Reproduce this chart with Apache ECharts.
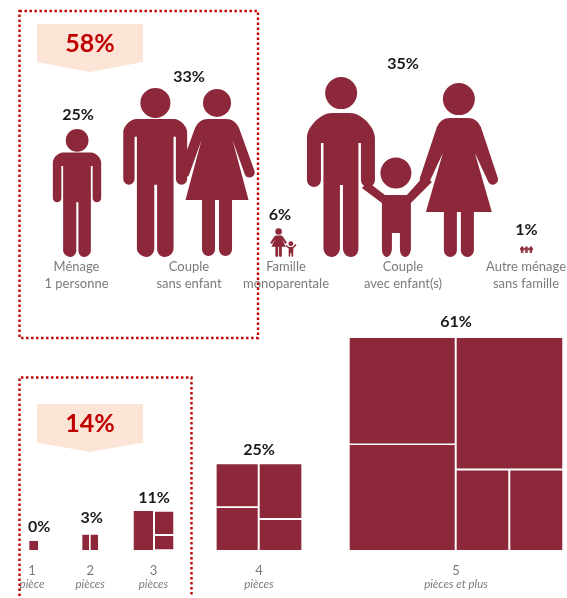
<!DOCTYPE html>
<html><head><meta charset="utf-8">
<style>html,body{margin:0;padding:0;background:#fff}#c{width:567px;height:598px}</style>
<script src="https://cdn.jsdelivr.net/npm/echarts@6/dist/echarts.min.js"></script>
</head><body><div id="c"></div>
<script>
// ---------- data ----------
const householdTypes = ['Ménage\n1 personne','Couple\nsans enfant','Famille\nmonoparentale','Couple\navec enfant(s)','Autre ménage\nsans famille'];
const householdShares = [25,33,6,35,1];
const householdDrawn = [24.9,32.9,5.6,35,1.3];
const roomCounts = ['1','2','3','4','5'];
const roomUnits = ['pièce','pièces','pièces','pièces','pièces et plus'];
const roomShares = [0,3,11,25,61];
const roomDrawn = [2.6,4.4,11.2,24.7,61];
const calloutTexts = ['58%','14%'];

// ---------- layout ----------
const W = 567, H = 598;
const peopleBase = 257, peopleRange = 50, roomBase = 550, roomRange = 100;
const peoplePx = peopleBase/peopleRange, roomPx = 3.475;
const iconX = [77,189,283.5,402.5,526.5];
const iconLift = [0,0,0,0,4];
const iconStretch = [1,1,1,1,1.68];
const valueOff = [[1,-1],[0,2],[-3.5,0],[0.5,0],[0,-3]];
const catX = [76.5,189,286,403,526];
const roomX = [33.7,90.2,153.5,259,456];
const roomValueOff = [[5.5,-1],[1.5,-4],[0.5,0],[0,-1],[0,-3]];
const roomLabelDx = [-1.7,0,0,0,0];
const labelCol = '#595959', ink = '#1a1a1a', maroon = '#8C2839', red = '#C00000', peach = '#FCE4D6';
const font = 'Lato, "Open Sans", sans-serif';

// ---------- glyphs (icon shapes in their own units) ----------
const n = v => +v.toFixed(2);
function circle(cx,cy,r){return `M${n(cx-r)} ${n(cy)}A${n(r)} ${n(r)} 0 1 1 ${n(cx+r)} ${n(cy)}A${n(r)} ${n(r)} 0 1 1 ${n(cx-r)} ${n(cy)}Z`;}
function man(ox,oy,s,p){
  const X=x=>n(ox+x*s),Y=y=>n(oy+y*s),a=p.arm,R=n(a/2*s),t=p.top,c=p.corner,k=c*.45;
  return circle(X(34.2),Y(16),16*s)+
  `M${X(0)} ${Y(t+c)}C${X(0)} ${Y(t+c-k)} ${X(c-k)} ${Y(t)} ${X(c)} ${Y(t)}L${X(68-c)} ${Y(t)}C${X(68-c+k)} ${Y(t)} ${X(68)} ${Y(t+c-k)} ${X(68)} ${Y(t+c)}`+
  `L${X(68)} ${Y(p.armC)}A${R} ${R} 0 0 1 ${X(68-a)} ${Y(p.armC)}L${X(68-a)} ${Y(p.gap)}L${X(65.5-a)} ${Y(p.gap)}L${X(65.5-a)} ${Y(171)}`+
  `C${X(65.5-a)} ${Y(176)} ${X(49)} ${Y(180)} ${X(44)} ${Y(180)}C${X(39)} ${Y(180)} ${X(36)} ${Y(176)} ${X(36)} ${Y(171)}L${X(36)} ${Y(p.crotch)}L${X(33)} ${Y(p.crotch)}L${X(33)} ${Y(171)}`+
  `C${X(33)} ${Y(176)} ${X(29)} ${Y(180)} ${X(25)} ${Y(180)}C${X(20)} ${Y(180)} ${X(a+2.5)} ${Y(176)} ${X(a+2.5)} ${Y(171)}L${X(a+2.5)} ${Y(p.gap)}L${X(a)} ${Y(p.gap)}L${X(a)} ${Y(p.armC)}A${R} ${R} 0 0 1 ${X(0)} ${Y(p.armC)}Z`;
}
function woman(cx,oy,s,p,sx){
  sx = sx || s;
  const X=x=>n(cx+x*sx),Y=y=>n(oy+y*s),R=n(5.2*sx);
  return circle(cx,Y(p.r),p.r*s)+
  `M${X(-9)} ${Y(p.top)}L${X(9)} ${Y(p.top)}C${X(15)} ${Y(p.top)} ${X(19)} ${Y(p.top+3)} ${X(22)} ${Y(p.top+9)}`+
  `L${X(p.hand)} ${Y(p.handY-2)}A${R} ${R} 0 0 1 ${X(p.hand-9.5)} ${Y(p.handY+2)}L${X(p.pit)} ${Y(p.pitY)}L${X(p.dress)} ${Y(p.hem)}L${X(15)} ${Y(p.hem)}`+
  `L${X(15)} ${Y(p.end-7)}C${X(15)} ${Y(p.end-3)} ${X(12)} ${Y(p.end)} ${X(8.5)} ${Y(p.end)}C${X(5)} ${Y(p.end)} ${X(2)} ${Y(p.end-3)} ${X(2)} ${Y(p.end-7)}L${X(2)} ${Y(p.hem)}L${X(-2)} ${Y(p.hem)}`+
  `L${X(-2)} ${Y(p.end-7)}C${X(-2)} ${Y(p.end-3)} ${X(-5)} ${Y(p.end)} ${X(-8.5)} ${Y(p.end)}C${X(-12)} ${Y(p.end)} ${X(-15)} ${Y(p.end-3)} ${X(-15)} ${Y(p.end-7)}L${X(-15)} ${Y(p.hem)}`+
  `L${X(-p.dress)} ${Y(p.hem)}L${X(-p.pit)} ${Y(p.pitY)}L${X(9.5-p.hand)} ${Y(p.handY+2)}A${R} ${R} 0 0 1 ${X(-p.hand)} ${Y(p.handY-2)}L${X(-22)} ${Y(p.top+9)}C${X(-19)} ${Y(p.top+3)} ${X(-15)} ${Y(p.top)} ${X(-9)} ${Y(p.top)}Z`;
}
function child(cx,oy,s){
  const X=x=>n(cx+x*s),Y=y=>n(oy+y*s);
  return circle(cx,Y(15.5),15.5*s)+
  `M${X(-11)} ${Y(37.5)}L${X(11)} ${Y(37.5)}L${X(29)} ${Y(17.5)}L${X(36)} ${Y(24.5)}L${X(15)} ${Y(45.5)}L${X(15)} ${Y(91)}`+
  `C${X(15)} ${Y(96)} ${X(12)} ${Y(99.5)} ${X(9.5)} ${Y(99.5)}C${X(6)} ${Y(99.5)} ${X(4)} ${Y(96)} ${X(4)} ${Y(91)}L${X(4)} ${Y(75.5)}L${X(-4)} ${Y(75.5)}L${X(-4)} ${Y(91)}`+
  `C${X(-4)} ${Y(96)} ${X(-7)} ${Y(99.5)} ${X(-9)} ${Y(99.5)}C${X(-12)} ${Y(99.5)} ${X(-14)} ${Y(96)} ${X(-14)} ${Y(91)}L${X(-14)} ${Y(45.5)}L${X(-34)} ${Y(30.5)}L${X(-28)} ${Y(24.5)}Z`;
}
const manPlain = {top:33,corner:14,arm:12,gap:52,armC:97,crotch:103};
const manFamily = {top:36,corner:25,arm:14,gap:66,armC:103,crotch:108};
const womanCouple = {r:14,top:30,hand:37.5,handY:84,pit:15.5,pitY:51,dress:31.5,hem:111,end:167};
const womanFamily = {r:16,top:35,hand:39,handY:97,pit:16,pitY:70,dress:33,hem:129,end:174};
const womanSmall = {r:19,top:43,hand:38,handY:85,pit:16,pitY:62,dress:33,hem:108,end:167};
const rects = a => a.map(([x,y,w,h]) => `M${x} ${y}L${x+w} ${y}L${x+w} ${y+h}L${x} ${y+h}Z`).join('');

const peopleGlyphs = [
  man(0,0,1,manPlain),
  man(0,0,.939,manPlain)+woman(93.7,1,1,womanCouple),
  woman(8,0,.174,womanSmall,.2175)+child(20.4,29-99.5*.16,.16),
  man(0,0,1,manFamily)+child(89,80.5,1)+woman(152,6,1,womanFamily),
  man(0,0,1,manPlain)+man(70,0,1,manPlain)+man(140,0,1,manPlain)
];
const roomGlyphs = [
  rects([[0,0,8.7,9]]),
  rects([[0,0,6.7,15.3],[8.3,0,7.4,15.3]]),
  rects([[0,0,19.3,39],[21.3,.7,18.3,22.3],[21.3,25,18.3,13.3]]),
  rects([[0,0,41,42],[0,43.7,41,42],[43,0,41.6,53.7],[43,55.7,41.6,30]]),
  rects([[0,0,105,105.5],[0,107,105,105],[107,0,105.6,130.5],[107,132.5,51.6,79.5],[160.6,132.5,52,79.5]])
];
const aspect = g => { const r = echarts.graphic.makePath(g,{},null).getBoundingRect(); return r.width/r.height; };
const hiddenAxis = (type,extra) => Object.assign({type,show:false},extra);

const valueLabel = {show:true,position:'top',color:ink,fontFamily:font,fontWeight:'bold',fontSize:16};
const chart = echarts.init(document.getElementById('c'),null,{renderer:'canvas',width:W,height:H});
chart.setOption({
  animation:false,
  backgroundColor:'#fff',
  grid:[
    {left:0,width:W,top:0,height:peopleBase},
    {left:0,width:W,top:roomBase-roomRange*roomPx,height:roomRange*roomPx}
  ],
  xAxis:[hiddenAxis('value',{gridIndex:0,min:0,max:W}),hiddenAxis('value',{gridIndex:1,min:0,max:W})],
  yAxis:[hiddenAxis('value',{gridIndex:0,min:0,max:peopleRange}),hiddenAxis('value',{gridIndex:1,min:0,max:roomRange})],
  graphic:{elements:[
    {type:'polygon',shape:{points:[[37,24],[143,24],[143,62],[90,72],[37,62]]},style:{fill:peach},z:1},
    {type:'polygon',shape:{points:[[37,404],[143,404],[143,442.5],[90,452],[37,442.5]]},style:{fill:peach},z:1},
    {type:'text',x:90,y:44,style:{text:calloutTexts[0],fill:red,font:'bold 25px '+font,textAlign:'center',textVerticalAlign:'middle'},z:2},
    {type:'text',x:90,y:424,style:{text:calloutTexts[1],fill:red,font:'bold 25px '+font,textAlign:'center',textVerticalAlign:'middle'},z:2},
    {type:'rect',shape:{x:19.5,y:11,width:238.5,height:327},style:{fill:'none',stroke:red,lineWidth:2.4,lineDash:[2.4,2.6]},z:3},
    {type:'polyline',shape:{points:[[19.5,596],[19.5,377.5],[191.5,377.5],[191.5,596]]},style:{fill:'none',stroke:red,lineWidth:2.4,lineDash:[2.4,2.6]},z:3}
  ]},
  series:[
    {type:'scatter',name:'Ménages',xAxisIndex:0,yAxisIndex:0,clip:false,silent:true,
      data:householdDrawn.map((v,i)=>({
        value:[iconX[i],v],
        symbol:'path://'+peopleGlyphs[i],
        symbolSize:[v*peoplePx*aspect(peopleGlyphs[i])*iconStretch[i],v*peoplePx],
        symbolOffset:[0,v*peoplePx/2-iconLift[i]],
        label:Object.assign({},valueLabel,{distance:5,offset:valueOff[i],formatter:householdShares[i]+'%'})
      })),
      itemStyle:{color:maroon,opacity:1}},
    {type:'scatter',name:'Types',xAxisIndex:0,yAxisIndex:0,clip:false,silent:true,
      symbolSize:1,itemStyle:{color:'transparent'},
      data:householdTypes.map((t,i)=>({value:[catX[i],0],label:{formatter:t}})),
      label:{show:true,position:'bottom',distance:1,color:labelCol,fontFamily:font,fontSize:13,lineHeight:17,align:'center'}},
    {type:'scatter',name:'Pièces',xAxisIndex:1,yAxisIndex:1,clip:false,silent:true,
      data:roomDrawn.map((v,i)=>({
        value:[roomX[i],v],
        symbol:'path://'+roomGlyphs[i],
        symbolSize:[v*roomPx*aspect(roomGlyphs[i]),v*roomPx],
        symbolOffset:[0,v*roomPx/2],
        label:Object.assign({},valueLabel,{distance:5,offset:roomValueOff[i],formatter:roomShares[i]+'%'})
      })),
      itemStyle:{color:maroon,opacity:1}},
    {type:'scatter',name:'Libellés pièces',xAxisIndex:1,yAxisIndex:1,clip:false,silent:true,
      symbolSize:1,itemStyle:{color:'transparent'},
      data:roomCounts.map((c,i)=>({value:[roomX[i]+roomLabelDx[i],0],label:{formatter:`{a|${c}}\n{b|${roomUnits[i]}}`}})),
      label:{show:true,position:'bottom',distance:13,align:'center',
        rich:{a:{color:labelCol,fontFamily:font,fontSize:13,lineHeight:14,align:'center'},
              b:{color:labelCol,fontFamily:font,fontSize:11.5,fontStyle:'italic',lineHeight:14,align:'center'}}}}
  ]
});
</script></body></html>
